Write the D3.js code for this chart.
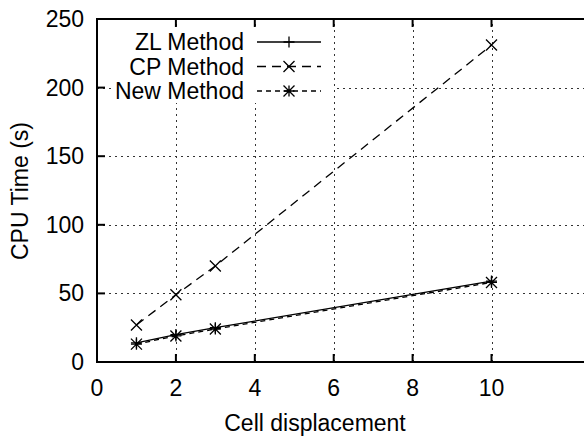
<!DOCTYPE html>
<html>
<head>
<meta charset="utf-8">
<script src="https://cdn.jsdelivr.net/npm/d3@7"></script>
<style>
  body { margin: 0; background: #fff; }
  text { font-family: "Liberation Sans", Arial, sans-serif; fill: #000; }
</style>
</head>
<body>
<div id="chart"></div>
<script>
// data
const displacement = [1, 2, 3, 10];
const zlTime = [14, 20, 25, 59];
const cpTime = [27, 49, 70, 231];
const newTime = [13, 19, 24, 58];
const xTicks = [0, 2, 4, 6, 8, 10];
const yTicks = [0, 50, 100, 150, 200, 250];

const series = [
    { name: "ZL Method", values: zlTime, dash: null, marker: "plus" },
    { name: "CP Method", values: cpTime, dash: "9,6", marker: "cross" },
    { name: "New Method", values: newTime, dash: "5,4", marker: "star" }
];

const width = 584, height = 438;
const plotLeft = 97, plotTop = 19, plotBottom = 362;
const unit = 39.45;
const fontSize = 23;

const svg = d3.select("#chart").append("svg")
    .attr("width", width)
    .attr("height", height);

// the plot is cut off on the right, so the frame runs past the picture
const x = d3.scaleLinear().domain([0, 13]).range([plotLeft, plotLeft + 13 * unit]);
const y = d3.scaleLinear().domain([0, 250]).range([plotBottom, plotTop]);
const plotRight = x(13);

// dotted grid
const grid = svg.append("g")
    .attr("stroke", "#333")
    .attr("stroke-width", 1)
    .attr("stroke-dasharray", "2,4");
grid.selectAll(".gx")
    .data(xTicks.filter(d => d > 0))
    .enter().append("line")
    .attr("x1", d => Math.round(x(d)) + 0.5).attr("x2", d => Math.round(x(d)) + 0.5)
    .attr("y1", plotBottom).attr("y2", plotTop);
grid.selectAll(".gy")
    .data(yTicks.filter(d => d > 0 && d < 250))
    .enter().append("line")
    .attr("x1", plotLeft).attr("x2", plotRight)
    .attr("y1", d => Math.round(y(d)) + 0.5).attr("y2", d => Math.round(y(d)) + 0.5);

// frame and inward ticks
svg.append("rect")
    .attr("x", plotLeft).attr("y", plotTop)
    .attr("width", plotRight - plotLeft).attr("height", plotBottom - plotTop)
    .attr("fill", "none").attr("stroke", "#000").attr("stroke-width", 2);

const ticks = svg.append("g").attr("stroke", "#000").attr("stroke-width", 2);
xTicks.forEach(d => {
    ticks.append("line").attr("x1", x(d)).attr("x2", x(d)).attr("y1", plotBottom).attr("y2", plotBottom - 8);
    ticks.append("line").attr("x1", x(d)).attr("x2", x(d)).attr("y1", plotTop).attr("y2", plotTop + 8);
});
yTicks.forEach(d => {
    ticks.append("line").attr("x1", plotLeft).attr("x2", plotLeft + 8).attr("y1", y(d)).attr("y2", y(d));
});

// tick labels
svg.selectAll(".xl")
    .data(xTicks)
    .enter().append("text")
    .attr("x", d => x(d))
    .attr("y", 396)
    .attr("text-anchor", "middle")
    .attr("font-size", fontSize)
    .text(d => d);
svg.selectAll(".yl")
    .data(yTicks)
    .enter().append("text")
    .attr("x", 84)
    .attr("y", d => y(d) + 8)
    .attr("text-anchor", "end")
    .attr("font-size", fontSize)
    .text(d => d);

// axis titles
svg.append("text")
    .attr("x", 315).attr("y", 431)
    .attr("text-anchor", "middle")
    .attr("font-size", fontSize)
    .text("Cell displacement");
svg.append("text")
    .attr("transform", "translate(28,191) rotate(-90)")
    .attr("text-anchor", "middle")
    .attr("font-size", fontSize)
    .text("CPU Time (s)");

function drawMarker(g, type, cx, cy) {
    const s = 5.5;
    const path = d3.path();
    if (type === "plus" || type === "star") {
        path.moveTo(cx - s, cy); path.lineTo(cx + s, cy);
        path.moveTo(cx, cy - s); path.lineTo(cx, cy + s);
    }
    if (type === "cross" || type === "star") {
        path.moveTo(cx - s, cy - s); path.lineTo(cx + s, cy + s);
        path.moveTo(cx - s, cy + s); path.lineTo(cx + s, cy - s);
    }
    g.append("path").attr("d", path.toString())
        .attr("stroke", "#000").attr("stroke-width", 1.3).attr("fill", "none");
}

const line = d3.line()
    .x(d => x(d[0]))
    .y(d => y(d[1]));

series.forEach(s => {
    const pts = displacement.map((d, j) => [d, s.values[j]]);
    const g = svg.append("g");
    g.append("path")
        .datum(pts)
        .attr("d", line)
        .attr("fill", "none")
        .attr("stroke", "#000")
        .attr("stroke-width", 1.3)
        .attr("stroke-dasharray", s.dash);
    pts.forEach(p => drawMarker(g, s.marker, x(p[0]), y(p[1])));
});

// key, with an opaque box that hides the grid behind it
const key = svg.append("g");
key.append("rect")
    .attr("x", 112).attr("y", 29)
    .attr("width", 221).attr("height", 74)
    .attr("fill", "#fff");
series.forEach((s, i) => {
    const ly = 42 + i * 24.5;
    key.append("text")
        .attr("x", 244).attr("y", ly + 8)
        .attr("text-anchor", "end")
        .attr("font-size", fontSize)
        .text(s.name);
    key.append("line")
        .attr("x1", 257).attr("x2", 321)
        .attr("y1", ly).attr("y2", ly)
        .attr("stroke", "#000").attr("stroke-width", 1.3)
        .attr("stroke-dasharray", s.dash);
    drawMarker(key, s.marker, 289, ly);
});
</script>
</body>
</html>
